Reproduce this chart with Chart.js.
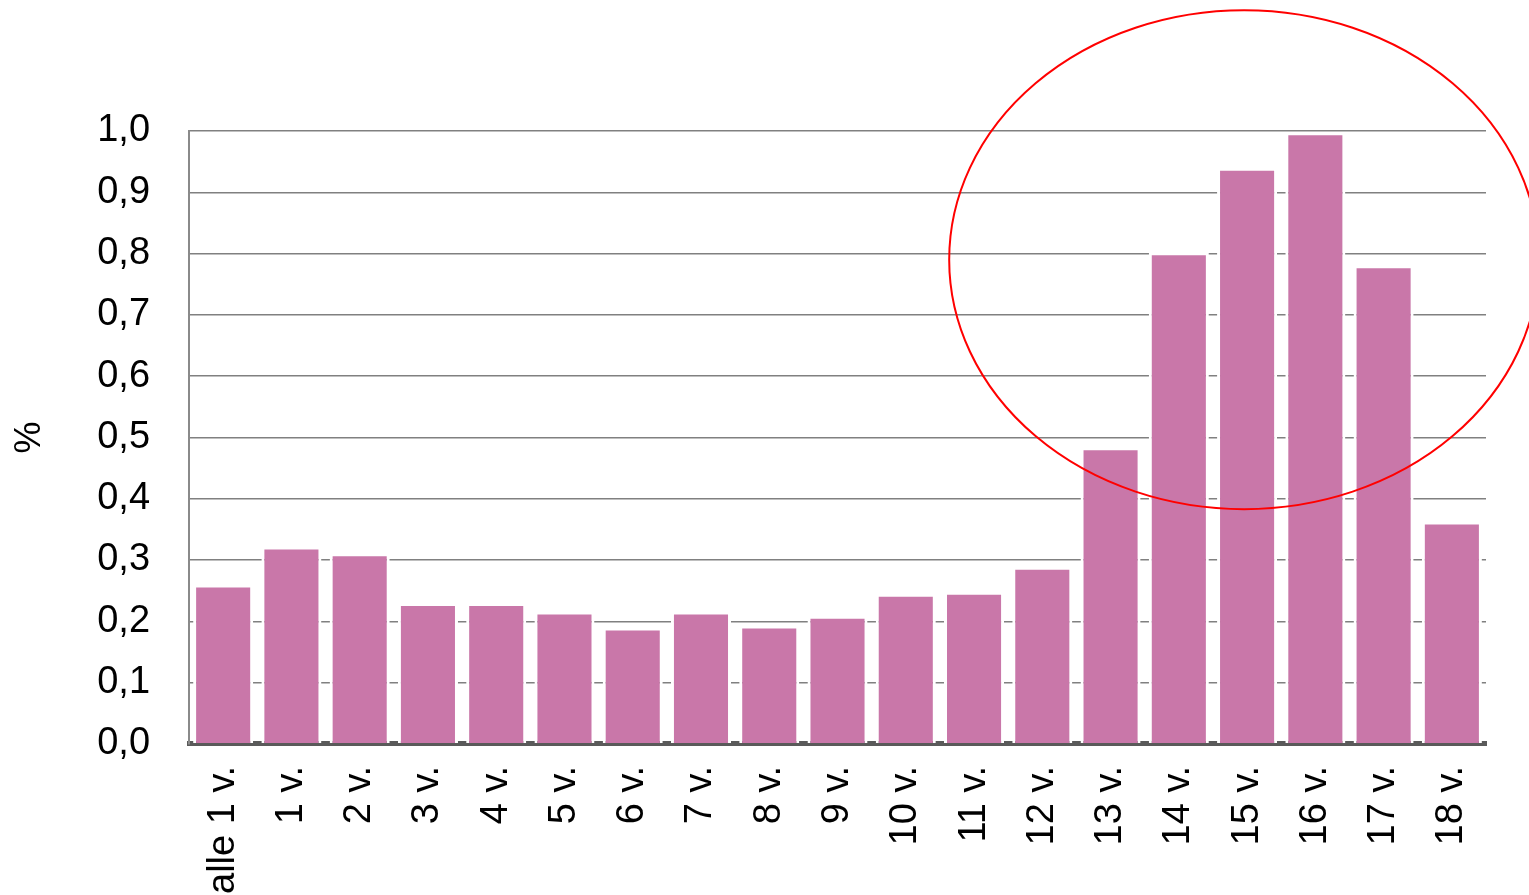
<!DOCTYPE html>
<html>
<head>
<meta charset="utf-8">
<script src="https://cdn.jsdelivr.net/npm/chart.js@4"></script>
<style>
  html, body { margin: 0; padding: 0; background: #fff; overflow: hidden; }
</style>
</head>
<body>
<canvas id="chart" width="1529" height="916"></canvas>
<script>
// categories and values (% share)
var categories = ["alle 1 v.", "1 v.", "2 v.", "3 v.", "4 v.", "5 v.", "6 v.", "7 v.", "8 v.", "9 v.",
                  "10 v.", "11 v.", "12 v.", "13 v.", "14 v.", "15 v.", "16 v.", "17 v.", "18 v."]
var percentValues = [0.26, 0.322, 0.311, 0.23, 0.23, 0.216, 0.19, 0.216, 0.193, 0.209,
                     0.245, 0.248, 0.289, 0.484, 0.802, 0.94, 0.998, 0.781, 0.363]
var yTicks = [0, 0.1, 0.2, 0.3, 0.4, 0.5, 0.6, 0.7, 0.8, 0.9, 1.0]

var fontFamily = "'Liberation Sans', Arial, sans-serif"

// red ring drawn over the chart, anchored to the scales
var ringPlugin = {
    id: "ring",
    afterDraw: function (chart) {
        var xs = chart.scales.x, ys = chart.scales.y
        var catW = xs.getPixelForValue(1) - xs.getPixelForValue(0)
        var unit = ys.getPixelForValue(0) - ys.getPixelForValue(1)
        var cx = xs.getPixelForValue(15) - 3
        var cy = ys.getPixelForValue(0.79)
        var ctx = chart.ctx
        ctx.save()
        ctx.beginPath()
        ctx.ellipse(cx, cy, catW * 4.32, unit * 0.407, 0, 0, Math.PI * 2)
        ctx.strokeStyle = "#ff0000"
        ctx.lineWidth = 2
        ctx.stroke()
        ctx.restore()
    }
}

var ctx = document.getElementById("chart")
var myChart = new Chart(ctx, {
    type: "bar",
    data: {
        labels: categories,
        datasets: [{
            label: "%",
            data: percentValues,
            backgroundColor: "#c977a9",
            borderColor: "#ffffff",
            borderWidth: 3,
            barPercentage: 0.88,
            categoryPercentage: 1.0
        }]
    },
    options: {
        responsive: false,
        animation: false,
        layout: { padding: { left: 0, right: 43, top: 131, bottom: 0 } },
        plugins: {
            legend: { display: false },
            tooltip: { enabled: false }
        },
        scales: {
            x: {
                grid: { display: false, drawTicks: false },
                border: { color: "#5a5a5a", width: 5 },
                ticks: {
                    color: "#000",
                    font: { family: fontFamily, size: 38 },
                    minRotation: 90,
                    maxRotation: 90,
                    autoSkip: false,
                    padding: 22
                }
            },
            y: {
                min: 0,
                max: 1,
                afterBuildTicks: function (axis) {
                    axis.ticks = yTicks.map(function (v) { return { value: v } })
                },
                grid: { color: "#808080", lineWidth: 1.5, drawTicks: false },
                border: { color: "#8a8a8a", width: 2 },
                ticks: {
                    color: "#000",
                    font: { family: fontFamily, size: 38 },
                    padding: 39,
                    callback: function (v) { return v.toFixed(1).replace(".", ",") }
                },
                title: {
                    display: true,
                    text: "%",
                    color: "#000",
                    font: { family: fontFamily, size: 36 },
                    padding: { top: 8, bottom: 7 }
                }
            }
        }
    },
    plugins: [ringPlugin]
})
</script>
</body>
</html>
